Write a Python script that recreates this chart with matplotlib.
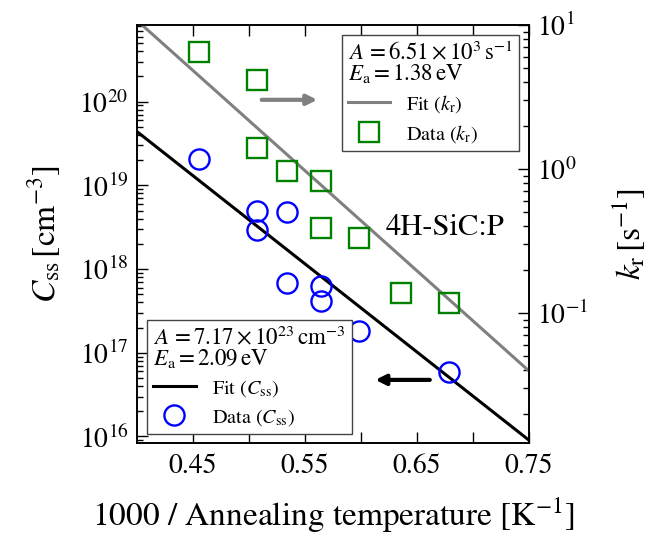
import numpy as np
import matplotlib
matplotlib.use('Agg')
import matplotlib.pyplot as plt

plt.rcParams['font.family'] = 'STIXGeneral'
plt.rcParams['mathtext.fontset'] = 'stix'

# measured data, x = 1000 / T [1/K]
x_kr = [0.455, 0.507, 0.507, 0.534, 0.564, 0.564, 0.598, 0.636, 0.679]
kr = [6.5, 4.15, 1.39, 0.97, 0.83, 0.39, 0.33, 0.137, 0.118]

x_css = [0.455, 0.507, 0.507, 0.534, 0.534, 0.564, 0.564, 0.598, 0.679]
css = [2.07e19, 4.9e18, 2.9e18, 4.85e18, 6.8e17, 6.3e17, 4.2e17, 1.8e17, 5.9e16]

# Arrhenius fit parameters
A_kr, Ea_kr = 6.51e3, 1.38
A_css, Ea_css = 7.17e23, 2.09
kB = 8.617e-5

x_fit = np.linspace(0.40, 0.75, 200)
css_fit = A_css * np.exp(-Ea_css * x_fit / (kB * 1000))
kr_fit = A_kr * np.exp(-Ea_kr * x_fit / (kB * 1000))

fig = plt.figure(figsize=(6.48, 5.41), dpi=100)
ax = fig.add_axes([137/648, 98/541, 392/648, 418/541])
ax2 = ax.twinx()

l1, = ax.plot(x_fit, css_fit, color='black', lw=2.2, label=r'Fit ($C_\mathrm{ss}$)')
p1, = ax.plot(x_css, css, 'o', ms=14.5, mfc='none', mec='blue', mew=1.7,
              label=r'Data ($C_\mathrm{ss}$)')
l2, = ax2.plot(x_fit, kr_fit, color='gray', lw=2.2, label=r'Fit ($k_\mathrm{r}$)')
p2, = ax2.plot(x_kr, kr, 's', ms=14, mfc='none', mec='green', mew=1.7,
               label=r'Data ($k_\mathrm{r}$)')

ax.set_xlim(0.40, 0.75)
ax.set_yscale('log')
ax.set_ylim(10**15.922, 10**20.916)
ax2.set_yscale('log')
ax2.set_ylim(10**-1.903, 10**1.0)

ax.set_xticks([0.45, 0.50, 0.55, 0.60, 0.65, 0.70, 0.75])
ax.set_xticklabels(['0.45', '', '0.55', '', '0.65', '', '0.75'])
ax.set_yticks([1e16, 1e17, 1e18, 1e19, 1e20])
ax2.set_yticks([1e-1, 1e0, 1e1])

ax.tick_params(axis='x', which='both', direction='in', top=True, length=8, width=1, labelsize=20, pad=8)
ax.tick_params(axis='y', which='major', direction='in', length=8, width=1, labelsize=20, pad=6)
ax.tick_params(axis='y', which='minor', direction='in', length=4, width=1)
ax2.tick_params(axis='y', which='major', direction='in', length=8, width=1, labelsize=20, pad=6)
ax2.tick_params(axis='y', which='minor', direction='in', length=4, width=1)
for a in (ax, ax2):
    for s in a.spines.values():
        s.set_linewidth(1.2)

ax.set_xlabel(r'1000 / Annealing temperature $[\mathrm{K}^{-1}]$', fontsize=24, labelpad=12)
ax.set_ylabel(r'$C_\mathrm{ss}\,[\mathrm{cm}^{-3}]$', fontsize=24, labelpad=12)
ax2.set_ylabel(r'$k_\mathrm{r}\,[\mathrm{s}^{-1}]$', fontsize=24, labelpad=16)

ax.text(0.786, 0.514, '4H-SiC:P', transform=ax.transAxes, fontsize=22, ha='center', va='center')

ax.annotate('', xy=(0.467, 0.821), xytext=(0.311, 0.821), xycoords='axes fraction',
            arrowprops=dict(arrowstyle='-|>,head_length=0.6,head_width=0.3', lw=3, color='gray'))
ax.annotate('', xy=(0.601, 0.151), xytext=(0.754, 0.151), xycoords='axes fraction',
            arrowprops=dict(arrowstyle='-|>,head_length=0.6,head_width=0.3', lw=3, color='black'))

leg2 = ax2.legend(handles=[l2, p2], loc='upper right', bbox_to_anchor=(0.974, 0.976),
                  borderaxespad=0,
                  title=r'$A\,=6.51\times10^{3}\,\mathrm{s}^{-1}$' + '\n' + r'$E_\mathrm{a}=1.38\,\mathrm{eV}$',
                  title_fontsize=16.5, fontsize=14.5, fancybox=False, edgecolor='#444444',
                  framealpha=1, handlelength=2.1, borderpad=0.3, labelspacing=0.4)
leg2._legend_box.align = 'left'
leg2.get_title().set_linespacing(0.85)
leg2.get_frame().set_linewidth(1.0)

leg1 = ax2.legend(handles=[l1, p1], loc='lower left', bbox_to_anchor=(0.026, 0.022),
                  borderaxespad=0,
                  title=r'$A\,=7.17\times10^{23}\,\mathrm{cm}^{-3}$' + '\n' + r'$E_\mathrm{a}=2.09\,\mathrm{eV}$',
                  title_fontsize=16.5, fontsize=14.5, fancybox=False, edgecolor='#444444',
                  framealpha=1, handlelength=2.1, borderpad=0.3, labelspacing=0.4)
leg1._legend_box.align = 'left'
leg1.get_title().set_linespacing(0.85)
leg1.get_frame().set_linewidth(1.0)
ax2.add_artist(leg2)

fig.savefig('out.png', dpi=100)
